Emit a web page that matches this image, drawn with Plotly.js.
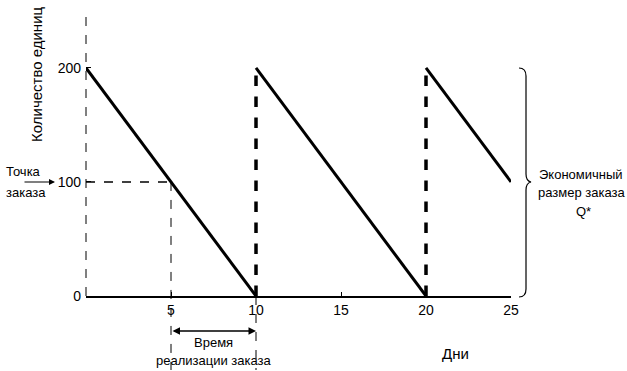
<!DOCTYPE html>
<html>
<head>
<meta charset="utf-8">
<script src="https://cdn.plot.ly/plotly-3.0.1.min.js"></script>
<style>html,body{margin:0;padding:0;background:#fff;}#chart{width:627px;height:371px;}</style>
</head>
<body>
<div id="chart"></div>
<script>
// ---- data ----
var cycleStartDay = [0, 10, 20];
var cycleEndDay = [10, 20, 25];
var startQty = [200, 200, 200];
var endQty = [0, 0, 100];
var reorderPoint = 100;
var reorderDay = 5;
var leadTimeEnd = 10;
var xTicks = [5, 10, 15, 20, 25];
var yTicks = [0, 100, 200];

var FONT = 'Liberation Sans Narrow, Arial Narrow, Liberation Sans, Arial, sans-serif';

// solid decreasing segments
var sx = [], sy = [];
for (var i = 0; i < cycleStartDay.length; i++) {
  sx.push(cycleStartDay[i], cycleEndDay[i], null);
  sy.push(startQty[i], endQty[i], null);
}
// dashed replenishment verticals
var vx = [], vy = [];
for (var j = 1; j < cycleStartDay.length; j++) {
  vx.push(cycleStartDay[j], cycleStartDay[j], null);
  vy.push(endQty[j - 1], startQty[j], null);
}

var traces = [
  {x: vx, y: vy, mode: 'lines', line: {color: '#000', width: 3.5, dash: 'dash'}, hoverinfo: 'skip'},
  {x: sx, y: sy, mode: 'lines', line: {color: '#000', width: 3}, hoverinfo: 'skip'}
];

var W = 627, H = 371, mL = 86, mR = 116, mT = 12, mB = 75;
var pw = W - mL - mR, ph = H - mT - mB;
function px(x) { return (x - mL) / pw; }
function py(y) { return (H - mB - y) / ph; }
var yMax = 249;

// brace path in paper coords
function P(x, y) { return px(x).toFixed(4) + ',' + py(y).toFixed(4); }
var brace = 'M' + P(519, 68) + ' Q' + P(526, 68) + ' ' + P(526, 76) +
  ' L' + P(526, 174) + ' Q' + P(526, 181) + ' ' + P(531, 182) +
  ' Q' + P(526, 183) + ' ' + P(526, 190) +
  ' L' + P(526, 289) + ' Q' + P(526, 297) + ' ' + P(519, 297);

var shapes = [
  {type: 'line', xref: 'paper', yref: 'paper', x0: 0, x1: 0, y0: 0, y1: 1, line: {color: '#000', width: 1, dash: 'dash'}},
  {type: 'line', xref: 'x', yref: 'y', x0: 0, x1: reorderDay, y0: reorderPoint, y1: reorderPoint, line: {color: '#000', width: 1.5, dash: 'dash'}},
  {type: 'line', xref: 'x', yref: 'paper', x0: reorderDay, x1: reorderDay, y0: reorderPoint / yMax, y1: py(370), line: {color: '#000', width: 1, dash: 'dash'}},
  {type: 'line', xref: 'x', yref: 'paper', x0: leadTimeEnd, x1: leadTimeEnd, y0: 0, y1: py(370), line: {color: '#000', width: 1, dash: 'dash'}},
  {type: 'path', xref: 'paper', yref: 'paper', path: brace, line: {color: '#000', width: 1.2}}
];

function txt(x, y, t, size, extra) {
  var a = {xref: 'paper', yref: 'paper', x: px(x), y: py(y), xanchor: 'center', yanchor: 'middle', text: t, showarrow: false,
    font: {family: FONT, size: size, color: '#000'}};
  if (extra) for (var k in extra) a[k] = extra[k];
  return a;
}

var annotations = [
  txt(36, 74, 'Количество единиц', 15, {textangle: -90}),
  txt(4, 171, 'Точка', 13, {xanchor: 'left'}),
  txt(4, 192, 'заказа', 13, {xanchor: 'left'}),
  {xref: 'paper', yref: 'paper', x: px(55), y: py(182), ax: -32, ay: 0, text: '', showarrow: true, arrowhead: 2, arrowsize: 1, arrowwidth: 1.2, arrowcolor: '#000'},
  {xref: 'x', yref: 'paper', x: leadTimeEnd, y: py(331), axref: 'x', ayref: 'pixel', ax: reorderDay, ay: 0, text: '', showarrow: true, arrowhead: 2, startarrowhead: 2, arrowside: 'end+start', arrowsize: 1, arrowwidth: 1.5, arrowcolor: '#000'},
  txt(213, 342, 'Время', 13),
  txt(214, 360, 'реализации заказа', 13),
  txt(455, 353, 'Дни', 15),
  txt(581, 174, 'Экономичный', 13),
  txt(581, 193, 'размер заказа', 13),
  txt(583, 211, 'Q*', 13)
];

var layout = {
  width: W, height: H,
  margin: {l: mL, r: mR, t: mT, b: mB, pad: 0},
  paper_bgcolor: '#fff', plot_bgcolor: '#fff',
  showlegend: false,
  font: {family: FONT, size: 14, color: '#000'},
  xaxis: {range: [0, 25], tickvals: xTicks, ticktext: xTicks.map(String), showline: true, linecolor: '#000', linewidth: 2,
    ticks: 'inside', ticklen: 4, tickcolor: '#000', showgrid: false, zeroline: false, fixedrange: true, tickfont: {family: FONT, size: 14}},
  yaxis: {range: [0, yMax], tickvals: yTicks, ticktext: yTicks.map(function (v) { return v + '\u00a0'; }), showline: false,
    ticks: 'inside', ticklen: 5, tickcolor: '#000', showgrid: false, zeroline: false, fixedrange: true, tickfont: {family: FONT, size: 14}},
  shapes: shapes,
  annotations: annotations
};

Plotly.newPlot('chart', traces, layout, {displayModeBar: false, staticPlot: true});
</script>
</body>
</html>
